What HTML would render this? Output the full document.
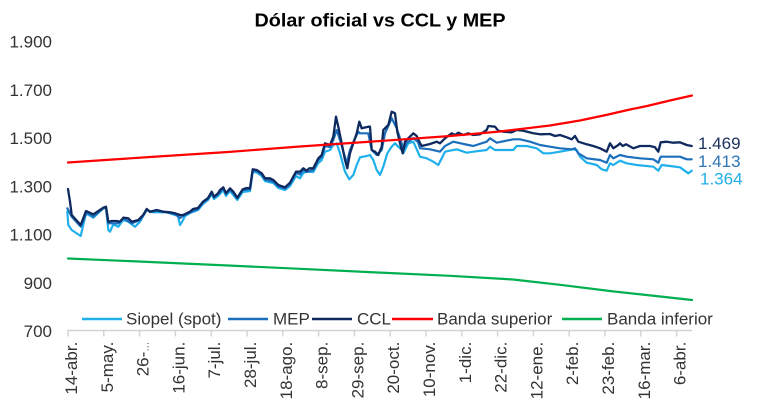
<!DOCTYPE html>
<html><head><meta charset="utf-8"><style>
html,body{margin:0;padding:0;background:#fff;}
svg{display:block;}
text{font-family:"Liberation Sans",Arial,sans-serif;}
</style></head><body>
<svg width="772" height="407" viewBox="0 0 772 407" xmlns="http://www.w3.org/2000/svg">
<rect width="772" height="407" fill="#fff"/>
<text x="380" y="26.7" text-anchor="middle" font-size="18.5" font-weight="bold" fill="#000" textLength="251" lengthAdjust="spacingAndGlyphs">Dólar oficial vs CCL y MEP</text>

<g font-size="17" fill="#333" text-anchor="end">
<text x="52" y="47.6">1.900</text>
<text x="52" y="95.9">1.700</text>
<text x="52" y="144.1">1.500</text>
<text x="52" y="192.4">1.300</text>
<text x="52" y="240.6">1.100</text>
<text x="52" y="288.9">900</text>
<text x="52" y="337.1">700</text>
</g>

<!-- x axis -->
<line x1="68" y1="330.5" x2="692" y2="330.5" stroke="#d4d4d4" stroke-width="1.5"/>
<g stroke="#d4d4d4" stroke-width="1.5">
<line x1="68" y1="330" x2="68" y2="336.5"/><line x1="103.8" y1="330" x2="103.8" y2="336.5"/><line x1="139.6" y1="330" x2="139.6" y2="336.5"/><line x1="175.4" y1="330" x2="175.4" y2="336.5"/><line x1="211.2" y1="330" x2="211.2" y2="336.5"/><line x1="247" y1="330" x2="247" y2="336.5"/><line x1="282.8" y1="330" x2="282.8" y2="336.5"/><line x1="318.6" y1="330" x2="318.6" y2="336.5"/><line x1="354.4" y1="330" x2="354.4" y2="336.5"/><line x1="390.2" y1="330" x2="390.2" y2="336.5"/><line x1="426" y1="330" x2="426" y2="336.5"/><line x1="461.8" y1="330" x2="461.8" y2="336.5"/><line x1="497.6" y1="330" x2="497.6" y2="336.5"/><line x1="533.4" y1="330" x2="533.4" y2="336.5"/><line x1="569.2" y1="330" x2="569.2" y2="336.5"/><line x1="605" y1="330" x2="605" y2="336.5"/><line x1="640.8" y1="330" x2="640.8" y2="336.5"/><line x1="676.6" y1="330" x2="676.6" y2="336.5"/>
</g>
<g font-size="17" fill="#333" text-anchor="end">
<text transform="translate(77,341.7) rotate(-90)">14-abr.</text>
<text transform="translate(112.8,341.7) rotate(-90)">5-may.</text>
<text transform="translate(148.6,341.7) rotate(-90)">26-<tspan font-size="10">…</tspan></text>
<text transform="translate(184.4,341.7) rotate(-90)">16-jun.</text>
<text transform="translate(220.2,341.7) rotate(-90)">7-jul.</text>
<text transform="translate(256,341.7) rotate(-90)">28-jul.</text>
<text transform="translate(291.8,341.7) rotate(-90)">18-ago.</text>
<text transform="translate(327.6,341.7) rotate(-90)">8-sep.</text>
<text transform="translate(363.4,341.7) rotate(-90)">29-sep.</text>
<text transform="translate(399.2,341.7) rotate(-90)">20-oct.</text>
<text transform="translate(435,341.7) rotate(-90)">10-nov.</text>
<text transform="translate(470.8,341.7) rotate(-90)">1-dic.</text>
<text transform="translate(506.6,341.7) rotate(-90)">22-dic.</text>
<text transform="translate(542.4,341.7) rotate(-90)">12-ene.</text>
<text transform="translate(578.2,341.7) rotate(-90)">2-feb.</text>
<text transform="translate(614,341.7) rotate(-90)">23-feb.</text>
<text transform="translate(649.8,341.7) rotate(-90)">16-mar.</text>
<text transform="translate(685.6,341.7) rotate(-90)">6-abr.</text>
</g>

<g fill="none" stroke-linejoin="round" stroke-linecap="round">
<!-- Siopel -->
<polyline stroke="#1fb0ec" stroke-width="2.2" points="67.3,211.7 68.3,225 71.7,230 80.7,236 86,213.3 93.3,217.7 103.3,208.3 106,208 108.3,230 110,231.7 113.3,224.3 118.3,226.7 123.3,220 128.3,221.7 135,226.7 140,221.7 146.7,210 153.3,212.3 166.7,212.3 175,215 178,216 180,225 182,222 185,216 190,213 198,210 203,204 208,200 211.7,194 214,199 218,196 223.3,190 226,196 230,191 233.3,195 237.3,200 242.7,192 250,191 252.7,172 256.7,172.5 261.7,176 265,181 273.3,183 278.3,188 285,190 290,186 296,176 300,178.3 303.3,173 306.7,171.7 313.3,172 318.3,163 321.7,160 325,151.7 330,150 333.3,145 336.7,143.3 340,153.3 345,171.7 349.3,179.3 353.3,175 356.7,165 360,157.3 366.7,156 370,155 373.3,160 376.7,170 380,175 383.3,166.7 387.3,153.3 391.7,146.7 395,143.3 398.3,146.7 401.7,150 403.3,153.3 408.3,143.3 413.3,141.7 420,156.7 426.7,158.3 433.3,161.7 438.3,165 441.7,158.3 445,151.7 456.7,149.3 466.7,152.7 473.3,151.7 486.7,150 490,146.7 495,150 513.3,150 516.7,146 526.7,146 536.7,148.3 543.3,153.3 550,153.3 560,151.7 573.3,149.3 576.7,150 580,156.7 586.7,162.7 596.7,165 601.7,169.3 606.7,170.7 610,163.3 613.3,165 620,160.7 626.7,163.3 636.7,165 653.3,166.7 658.3,170.7 661.7,165 670,166 680,167.3 688.3,173.3 691.7,170.7"/>
<!-- MEP -->
<polyline stroke="#1c6fbd" stroke-width="2.2" points="67.3,208.3 71.7,216.7 80.7,226.7 86.7,212.3 93.3,216.7 103.3,208.3 106,207.5 108.3,223.3 118.3,223.3 123.3,218.3 131.7,223.3 140,220 146.7,209.3 150,212 156.7,210.7 166.7,212.3 175,214 180,218 183,216 190,212.5 198,209 203,202.5 208,199 211.7,193 214,197.5 218,194.5 223.3,188.3 226,194 230,189.5 233.3,193 237.3,198.5 242.7,190 250,189.3 252.7,170.5 256.7,171 261.7,174.5 265,179.5 273.3,181.5 278.3,186.5 285,188.5 290,184 296,173 300,174.5 303.3,170 306.7,172 313.3,170 318.3,160 321.7,157 325,146 330,147 333.3,140 336.7,130 340,140 346.7,163.3 350,150 353.3,142 358.3,131.7 360,133.3 368.3,133.3 371.7,150 376.7,155 381.7,150 385,133.3 391.7,118.3 396.7,128.3 401.7,143.3 403.3,150 406.7,143 413.3,138 418,142 420,148.3 430,149.3 440,151.7 445,146 453.3,141.7 468.3,145 473.3,146 486.7,141.7 490,138.3 496.7,142.7 513.3,139.3 520,139.3 530,141.7 540,145 550,146.7 560,148.3 571.7,149.3 575,148.3 578.3,153.3 586.7,158.3 600,160 606.7,162.7 610,155 613.3,158.3 620,155 626.7,156.7 640,158.3 653.3,159.3 658.3,162.7 660.7,156.7 670,156.7 680,156.7 686.7,159.3 691.7,159.3"/>
<!-- CCL -->
<polyline stroke="#0f2a5f" stroke-width="2.3" points="68,189 70,201.7 71.7,215 80.7,225 86,211 93.3,214.3 103.3,207.7 106,206.7 108.3,221.7 111.7,221 116.7,221 120,221.7 123.3,217.7 128.3,218.3 131.7,221.7 138.3,220 143.3,215 146.7,209 150,211.7 156.7,210 163.3,211.7 170,212.3 175,213.3 180,215 183,215 190,211.7 193,209 198,208 203,201.7 208,198 211.7,191.7 214,196.7 218,193.3 220,190 223.3,187.3 226,193.3 230,188.3 233.3,191.7 237.3,197.7 242.7,189.3 246.7,188 250,188.3 252.7,169.3 256.7,170 261.7,173.3 265,178.3 270,178.3 273.3,180 278.3,185 285,187.3 290,182.7 296,171.7 300,171.7 303.3,168.3 306.7,170.7 309.3,168.3 313.3,168.3 318.3,158.3 321.7,155 325,143.3 330,145 333.3,136.7 336,116.7 338.3,126.7 341.7,143.3 345,160 347.3,168.3 350,153.3 353.3,143.3 356.7,133.3 359.3,121.7 361.7,128.3 368.3,126.7 370,126.7 371.7,150 375,151.7 378.3,155 381.7,146.7 383.3,130 388.3,125 391.7,111.7 395,113.3 397.3,131.7 400,143.3 402.7,153.3 405,141.7 408.3,138.3 413.3,133.3 416.7,136 419.3,141.7 421.7,146 430,144 436.7,141.7 440,143.3 445,138.3 451.7,133.3 455,135 458.3,132.7 463.3,135 468.3,133.3 473.3,135 480,134.3 486.7,130 488.3,126 495,126.7 498.3,130.7 503.3,131.7 511.7,132.3 516.7,130 523.3,130.7 533.3,133.3 540,134.3 550,134 555,136 560,135 566.7,137.3 571.7,139.3 575,136 578.3,141.7 586.7,144.3 593.3,146 600,148.3 606.7,151.7 610,143.3 613.3,148.3 618.3,145 620,143.3 622.7,146 626,144.3 633.3,148.3 640,146 650,146 655,147.3 658.3,151.7 660.7,142.3 666.7,141.7 673.3,142.7 680,142.3 686.7,145 691.7,146"/>
<!-- Banda superior -->
<polyline stroke="#ff0000" stroke-width="2.2" points="68,162.5 150,157 228,152 300,146.5 390,140.3 450,136 500,131.5 550,125.5 580,120.5 606,115 630,109.5 647,106 670,100.5 692,95.5"/>
<!-- Banda inferior -->
<polyline stroke="#00b050" stroke-width="2.2" points="68,258.5 150,262 228,265.5 300,268.8 380,272.6 450,275.8 513,279.5 560,284.8 613,291.4 650,295.4 692,300"/>
</g>

<!-- end labels -->
<g font-size="17">
<text x="698" y="149" fill="#1b2f5e">1.469</text>
<text x="698" y="167" fill="#2e75b6">1.413</text>
<text x="700" y="184.5" fill="#22aee8">1.364</text>
</g>

<!-- legend -->
<g stroke-width="2.5">
<line x1="82" y1="319" x2="122" y2="319" stroke="#1fb0ec"/>
<line x1="228" y1="319" x2="268" y2="319" stroke="#1c6fbd"/>
<line x1="312" y1="319" x2="352" y2="319" stroke="#0f2a5f"/>
<line x1="392" y1="319" x2="433" y2="319" stroke="#ff0000"/>
<line x1="562" y1="319" x2="602" y2="319" stroke="#00b050"/>
</g>
<g font-size="17" fill="#333">
<text x="126" y="324.7">Siopel (spot)</text>
<text x="273" y="324.7">MEP</text>
<text x="357" y="324.7">CCL</text>
<text x="437" y="324.7">Banda superior</text>
<text x="607" y="324.7">Banda inferior</text>
</g>
</svg>
</body></html>
